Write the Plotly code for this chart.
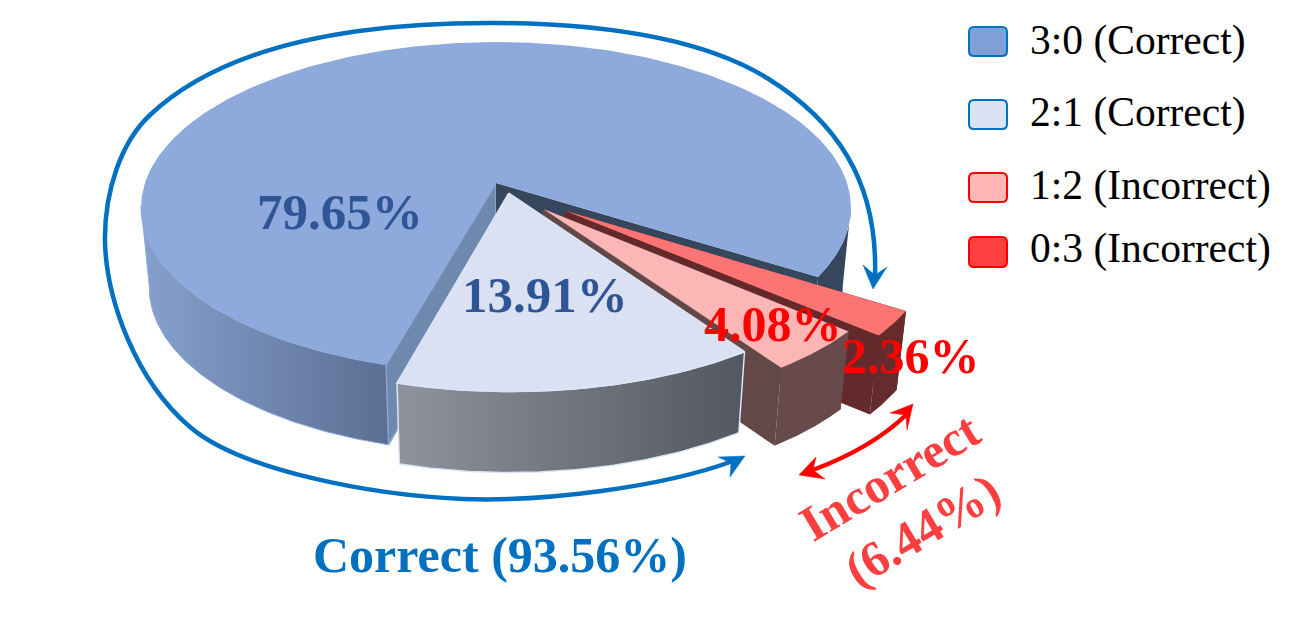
import math
import plotly.graph_objects as go

# ---- data ----
labels = ["3:0 (Correct)", "2:1 (Correct)", "1:2 (Incorrect)", "0:3 (Incorrect)"]
values = [79.65, 13.91, 4.08, 2.36]
value_text = ["79.65%", "13.91%", "4.08%", "2.36%"]
draw_order = [0, 3, 2, 1]          # clockwise from the start angle, also back to front

# ---- style ----
START = 195.6
explode = [0, 0.072, 0.205, 0.255]
explode_dir = [0, 150, 140, 131]
radius = [1, 1.02, 0.995, 1.01]
wall_h = [80, 81, 78, 79]
top_col = ["#8EA9DB", "#D9E1F2", "#FDB6B6", "#FD7474"]
left_face = ["#6F88AE", "#8A8E98", "#624847", "#642A2B"]
right_face = ["#36465C", "#555962", "#624847", "#642A2B"]
wall_grad = [("#86A0CE", "#5C6F93"), ("#8F939D", "#53575F"), ("#684A4A", "#684A4A"), ("#652C2D", "#652C2D")]
swatch_fill = ["#82A0D8", "#DAE3F3", "#FFB7B7", "#FF4040"]
swatch_line = ["#0070C0", "#0070C0", "#FF0000", "#FF0000"]
swatch_y = [(27, 56), (100, 129), (173, 202), (237, 267)]
legend_y = [40.5, 112.5, 185.5, 248.5]
SERIF = "Liberation Serif"
BLUE = "#0070C0"
RED = "#FF0000"
SOFT_RED = "#FF3F3F"

X0, Y0, A, B, K, SHRINK = 496, 183, 351, 161.8, 0.148, 0.977


def proj(u, v, h=0):
    w = 1 + K * v
    x = X0 + A * u / w
    y = Y0 - B * v / w
    if h:
        x = X0 + (x - X0) * SHRINK
        y += h
    return x, y


def rim(a, ox, oy, r):
    t = math.radians(a)
    return ox + r * math.sin(t), oy + r * math.cos(t)


def arc(a1, a2, ox, oy, r, n=90):
    return [rim(a1 + (a2 - a1) * i / n, ox, oy, r) for i in range(n + 1)]


def poly(fig, pts, color=None, grad=None, line=None, lw=0):
    xs = [p[0] for p in pts] + [pts[0][0]]
    ys = [p[1] for p in pts] + [pts[0][1]]
    kw = dict(x=xs, y=ys, mode="lines", fill="toself", hoverinfo="skip", showlegend=False,
              line=dict(color=line or "rgba(0,0,0,0)", width=lw))
    if grad:
        kw["fillgradient"] = dict(type="horizontal", colorscale=[[0, grad[0]], [1, grad[1]]])
    else:
        kw["fillcolor"] = color
    fig.add_trace(go.Scatter(**kw))


fig = go.Figure()
total = sum(values)
angle = START
spans = {}
for i in draw_order:
    s = values[i] / total * 360
    spans[i] = (angle, angle + s)
    angle += s

for i in draw_order:
    a1, a2 = spans[i]
    d = math.radians(explode_dir[i])
    ox, oy = explode[i] * math.sin(d), explode[i] * math.cos(d)
    r = radius[i]
    h = wall_h[i]
    edge_line = "#DCE6F6" if i == 1 else None
    edge_w = 1.5 if i == 1 else 0
    apex = proj(ox, oy)
    apex_l = proj(ox, oy, h)
    # cut faces
    p1 = rim(a1, ox, oy, r)
    p2 = rim(a2, ox, oy, r)
    poly(fig, [apex, proj(*p1), proj(*p1, h), apex_l], left_face[i],
         line="#8FA9D8" if i == 0 else None, lw=1.5 if i == 0 else 0)
    poly(fig, [apex, proj(*p2), proj(*p2, h), apex_l], right_face[i])
    # outer wall(s)
    if i == 0:
        left = arc(a1, 262, ox, oy, r)
        poly(fig, [proj(*p) for p in left] + [proj(*p, h) for p in reversed(left)],
             grad=wall_grad[0], line="#8FA9D8", lw=1)
        right = arc(458, a2, ox, oy, r, 40)
        poly(fig, [proj(*p) for p in right] + [proj(*p, h) for p in reversed(right)], right_face[0])
    else:
        pts = arc(a1, a2, ox, oy, r)
        poly(fig, [proj(*p) for p in pts] + [proj(*p, h) for p in reversed(pts)],
             grad=wall_grad[i], line=edge_line, lw=edge_w)
    # top
    pts = arc(a1, a2, ox, oy, r, 240 if i == 0 else 60)
    poly(fig, [apex] + [proj(*p) for p in pts], top_col[i], line=edge_line, lw=edge_w)


def rrect(x0, y0, x1, y1, r=5):
    return (f"M{x0+r},{y0} L{x1-r},{y0} Q{x1},{y0} {x1},{y0+r} L{x1},{y1-r} Q{x1},{y1} {x1-r},{y1} "
            f"L{x0+r},{y1} Q{x0},{y1} {x0},{y1-r} L{x0},{y0+r} Q{x0},{y0} {x0+r},{y0} Z")


def head(tip, b1, notch, b2, color):
    return dict(type="path", path=f"M{b1[0]},{b1[1]} L{tip[0]},{tip[1]} L{b2[0]},{b2[1]} L{notch[0]},{notch[1]} Z",
                fillcolor=color, line=dict(color=color, width=0.5), xref="x", yref="y")


shapes = []
for i in range(4):
    shapes.append(dict(type="path", path=rrect(969, swatch_y[i][0], 1007, swatch_y[i][1]),
                       fillcolor=swatch_fill[i], line=dict(color=swatch_line[i], width=2), xref="x", yref="y"))

big_curve = ("M875,276 C878,180 835,120 767,78 C700,37 600,24 500,23 C385,22 235,35 150,115 "
             "C122,141 104,190 105,243 C107,300 135,380 190,427 C240,470 370,495 463,499 "
             "C540,502 660,488 733,461")
red_curve = "M813,470 C845,458 880,440 906,415"
shapes.append(dict(type="path", path=big_curve, line=dict(color=BLUE, width=4.5), xref="x", yref="y"))
shapes.append(head((873, 289), (863, 265), (875, 275), (887, 267), BLUE))
shapes.append(head((745, 456), (718, 457), (731, 463), (730, 477), BLUE))
shapes.append(dict(type="path", path=red_curve, line=dict(color=RED, width=4.5), xref="x", yref="y"))
shapes.append(head((799, 475), (816, 457), (813, 470), (825, 479), RED))
shapes.append(head((913, 404), (890, 413), (906, 415), (907, 430), RED))

ann = []


def text(x, y, s, size, color, bold=False, anchor="center", angle=0):
    ann.append(dict(x=x, y=y, xref="x", yref="y", text=f"<b>{s}</b>" if bold else s, showarrow=False,
                    xanchor=anchor, yanchor="middle", textangle=angle,
                    font=dict(family=SERIF, size=size, color=color)))


text(340, 212, value_text[0], 51, "#2F5597", True)
text(544.5, 295, value_text[1], 51, "#2F5597", True)
text(773, 324, value_text[2], 50, RED, True)
text(911, 356, value_text[3], 50, RED, True)
text(500, 555, "Correct (93.56%)", 50, BLUE, True)
text(889, 477, "Incorrect", 50, SOFT_RED, True, angle=-31)
text(922, 530, "(6.44%)", 50, SOFT_RED, True, angle=-31)
for i in range(4):
    text(1028, legend_y[i], labels[i], 41.5, "#000000", anchor="left")

fig.update_layout(
    width=1296, height=620, margin=dict(l=0, r=0, t=0, b=0),
    paper_bgcolor="white", plot_bgcolor="white", showlegend=False,
    xaxis=dict(range=[0, 1296], visible=False, fixedrange=True),
    yaxis=dict(range=[620, 0], visible=False, fixedrange=True),
    shapes=shapes, annotations=ann,
)
fig.write_html("out.html", config=dict(displayModeBar=False),
               post_script="document.body.style.margin='0';")
